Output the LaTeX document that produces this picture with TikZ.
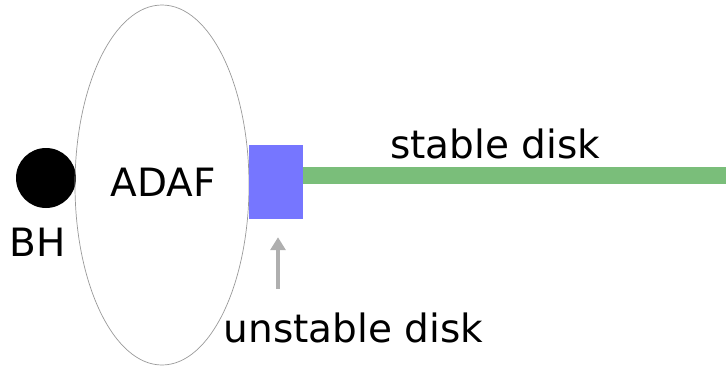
\documentclass[tikz,border=0pt]{standalone}
\usepackage{fontspec}
\setmainfont{DejaVu Sans}
\usetikzlibrary{shapes.geometric}
\usetikzlibrary{arrows.meta}

\definecolor{unstblue}{RGB}{118,118,255}
\definecolor{diskgreen}{RGB}{122,190,122}
\definecolor{pointgray}{RGB}{175,175,175}

\tikzset{
  lbl/.style={font=\fontsize{39}{42}\selectfont, inner sep=0pt, anchor=base},
  hole/.style={circle, fill=black, minimum size=60pt, inner sep=0pt},
  flow/.style={ellipse, draw=gray!80, line width=0.7pt, minimum width=174pt, minimum height=360pt, inner sep=0pt},
  ring/.style={rectangle, fill=unstblue, minimum width=54pt, minimum height=74pt, inner sep=0pt},
  pointer/.style={pointgray, line width=3.6pt, -{Triangle[width=15pt,length=13pt]}}
}

\begin{document}
\begin{tikzpicture}[x=1pt,y=-1pt]
    \useasboundingbox (0,0) rectangle (726,368);

    \node[hole] (bh) at (46,178) {};
    \node[flow] (adaf) at (162,185) {};
    \node[ring] (unst) at (276,182) {};

    \coordinate (rim) at (726,175.5);
    \coordinate (foot) at (278,289);

    % Labels
    \node[lbl] (bhl) at (38,256) {BH};
    \node[lbl] (adafl) at (163.5,196) {ADAF};
    \node[lbl] (stl) at (495,158) {stable disk};
    \node[lbl] (unl) at (353.5,342) {unstable disk};

    % Edges
    \draw[diskgreen, line width=17pt] (unst.east |- rim) -- (rim);
    \draw[pointer] (foot) -- ([xshift=2pt,yshift=-18pt]unst.south);
\end{tikzpicture}
\end{document}
